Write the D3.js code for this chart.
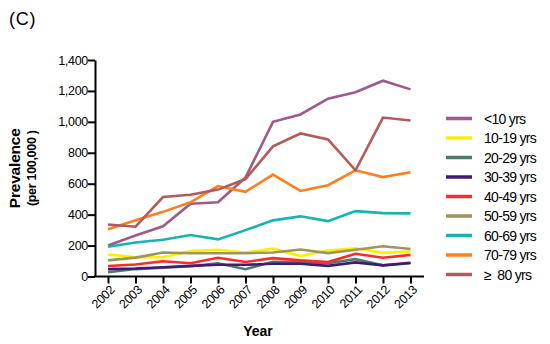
<!DOCTYPE html>
<html>
<head>
<meta charset="utf-8">
<script src="https://cdn.jsdelivr.net/npm/d3@7"></script>
<style>
  body { margin: 0; background: #fff; }
  svg { font-family: "Liberation Sans", Arial, sans-serif; }
</style>
</head>
<body>
<div id="chart"></div>
<script>
const years = [2002, 2003, 2004, 2005, 2006, 2007, 2008, 2009, 2010, 2011, 2012, 2013];
const groups = ["<10 yrs", "10-19 yrs", "20-29 yrs", "30-39 yrs", "40-49 yrs", "50-59 yrs", "60-69 yrs", "70-79 yrs", "\u2265  80 yrs"];
const colors = ["#9b5b8b", "#fbf000", "#4a7b72", "#3f1b74", "#ff2a2a", "#9e9462", "#17b3b0", "#ff7f1e", "#b45a5a"];

const under10 = [200, 265, 325, 470, 480, 640, 1000, 1048, 1150, 1192, 1266, 1210];
const age10 = [143, 125, 124, 164, 173, 155, 180, 132, 168, 183, 153, 162];
const age20 = [28, 48, 57, 66, 86, 47, 95, 94, 86, 112, 72, 86];
const age30 = [48, 52, 60, 69, 76, 76, 82, 82, 69, 91, 72, 89];
const age40 = [68, 78, 99, 86, 121, 94, 119, 104, 93, 147, 121, 140];
const age50 = [104, 122, 155, 150, 150, 150, 155, 175, 151, 173, 196, 178];
const age60 = [192, 220, 238, 268, 240, 300, 363, 389, 358, 423, 410, 408];
const age70 = [306, 364, 418, 480, 585, 548, 659, 553, 590, 687, 643, 674];
const over80 = [336, 322, 514, 529, 562, 630, 842, 925, 886, 687, 1028, 1009];
const series = [under10, age10, age20, age30, age40, age50, age60, age70, over80];

const yTicks = [0, 200, 400, 600, 800, 1000, 1200, 1400];

const width = 550, height = 344;
const svg = d3.select("#chart").append("svg")
  .attr("width", width)
  .attr("height", height);

const x = d3.scaleLinear().domain([2002, 2013]).range([108, 410.5]);
const y = d3.scaleLinear().domain([0, 1400]).range([276.5, 60]);

// panel label
svg.append("text")
  .attr("x", 9).attr("y", 25)
  .attr("font-size", 18)
  .attr("letter-spacing", 0.8)
  .text("(C)");

// y axis
const yAxis = svg.append("g")
  .attr("transform", "translate(95,0)")
  .call(d3.axisLeft(y).tickValues(yTicks).tickSize(7).tickSizeOuter(0).tickFormat(d3.format(",")));
yAxis.select(".domain").attr("stroke", "#000").attr("stroke-width", 2);
yAxis.selectAll(".tick line").attr("stroke", "#000").attr("stroke-width", 2);
yAxis.selectAll(".tick text")
  .attr("x", -7)
  .attr("font-size", 12.5)
  .attr("letter-spacing", -0.3)
  .attr("fill", "#000")
  .attr("font-family", "Liberation Sans, Arial, sans-serif");

// x axis
const xAxis = svg.append("g")
  .attr("transform", `translate(0,${y(0)})`)
  .call(d3.axisBottom(x).tickValues(years).tickSize(7).tickSizeOuter(0).tickFormat(d3.format("d")));
xAxis.select(".domain").remove();
xAxis.append("line")
  .attr("x1", 94).attr("x2", 424)
  .attr("stroke", "#000").attr("stroke-width", 2);
xAxis.selectAll(".tick line").attr("stroke", "#000").attr("stroke-width", 2);
xAxis.selectAll(".tick text")
  .attr("font-size", 12.5)
  .attr("letter-spacing", -0.3)
  .attr("fill", "#000")
  .attr("font-family", "Liberation Sans, Arial, sans-serif")
  .attr("text-anchor", "end")
  .attr("dy", null)
  .attr("y", 0)
  .attr("transform", "translate(7,14) rotate(-45)");

// axis titles
svg.append("text")
  .attr("transform", `translate(20,${(y(0) + y(1400)) / 2}) rotate(-90)`)
  .attr("text-anchor", "middle")
  .attr("font-size", 15.5)
  .attr("font-weight", "bold")
  .attr("letter-spacing", -0.2)
  .text("Prevalence");
svg.append("text")
  .attr("transform", `translate(36,${(y(0) + y(1400)) / 2}) rotate(-90)`)
  .attr("text-anchor", "middle")
  .attr("font-size", 12.5)
  .attr("font-weight", "bold")
  .attr("letter-spacing", -0.3)
  .text("(per 100,000 )");
svg.append("text")
  .attr("x", 258).attr("y", 336)
  .attr("text-anchor", "middle")
  .attr("font-size", 14)
  .attr("font-weight", "bold")
  .text("Year");

// lines
const line = d3.line()
  .x((d, i) => x(years[i]))
  .y(d => y(d));

svg.append("g")
  .selectAll("path")
  .data(series)
  .join("path")
  .attr("d", line)
  .attr("fill", "none")
  .attr("stroke", (d, i) => colors[i])
  .attr("stroke-width", 2.6)
  .attr("stroke-linejoin", "miter");

// legend
const legend = svg.append("g")
  .selectAll("g")
  .data(groups)
  .join("g")
  .attr("transform", (d, i) => `translate(446,${118.5 + i * 19.5})`);
legend.append("line")
  .attr("x1", 0).attr("x2", 26)
  .attr("stroke", (d, i) => colors[i])
  .attr("stroke-width", 3.5);
legend.append("text")
  .attr("x", 38).attr("y", 5)
  .attr("font-size", 14)
  .attr("letter-spacing", -0.7)
  .style("white-space", "pre")
  .text(d => d);
</script>
</body>
</html>
